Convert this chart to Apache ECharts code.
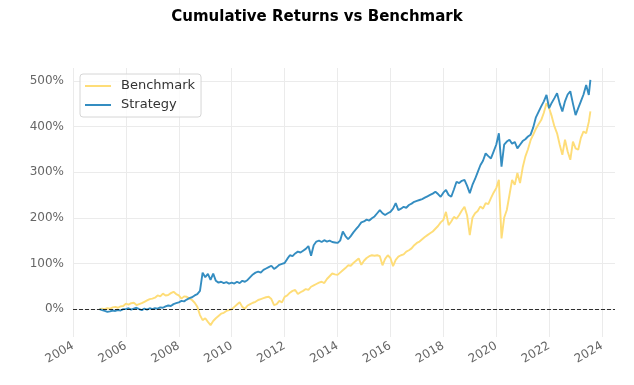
<!DOCTYPE html>
<html>
<head>
<meta charset="utf-8">
<script src="https://cdn.jsdelivr.net/npm/echarts@6/dist/echarts.min.js"></script>
<style>html,body{margin:0;padding:0;background:#fff}#c{width:634px;height:385px}</style>
</head>
<body>
<div id="c"></div>
<script>
const years = [
2005.0,2005.1,2005.2,2005.3,2005.4,2005.5,2005.6,2005.7,2005.8,2005.9,
2006.0,2006.1,2006.2,2006.3,2006.4,2006.5,2006.6,2006.7,2006.8,2006.9,
2007.0,2007.1,2007.2,2007.3,2007.4,2007.5,2007.6,2007.7,2007.8,2007.9,
2008.0,2008.1,2008.2,2008.3,2008.4,2008.5,2008.6,2008.7,2008.8,2008.9,
2009.0,2009.1,2009.2,2009.3,2009.4,2009.5,2009.6,2009.7,2009.8,2009.9,
2010.0,2010.1,2010.2,2010.3,2010.4,2010.5,2010.6,2010.7,2010.8,2010.9,
2011.0,2011.1,2011.2,2011.3,2011.4,2011.5,2011.6,2011.7,2011.8,2011.9,
2012.0,2012.1,2012.2,2012.3,2012.4,2012.5,2012.6,2012.7,2012.8,2012.9,
2013.0,2013.1,2013.2,2013.3,2013.4,2013.5,2013.6,2013.7,2013.8,2013.9,
2014.0,2014.1,2014.2,2014.3,2014.4,2014.5,2014.6,2014.7,2014.8,2014.9,
2015.0,2015.1,2015.2,2015.3,2015.4,2015.5,2015.6,2015.7,2015.8,2015.9,
2016.0,2016.1,2016.2,2016.3,2016.4,2016.5,2016.6,2016.7,2016.8,2016.9,
2017.0,2017.1,2017.2,2017.3,2017.4,2017.5,2017.6,2017.7,2017.8,2017.9,
2018.0,2018.1,2018.2,2018.3,2018.4,2018.5,2018.6,2018.7,2018.8,2018.9,
2019.0,2019.1,2019.2,2019.3,2019.4,2019.5,2019.6,2019.7,2019.8,2019.9,
2020.0,2020.1,2020.2,2020.3,2020.4,2020.5,2020.6,2020.7,2020.8,2020.9,
2021.0,2021.1,2021.2,2021.3,2021.4,2021.5,2021.6,2021.7,2021.8,2021.9,
2022.0,2022.1,2022.2,2022.3,2022.4,2022.5,2022.6,2022.7,2022.8,2022.9,
2023.0,2023.1,2023.2,2023.3,2023.4,2023.5,2023.56
];
const benchmark = [
0,1,0,2,1,4,5,3,6,7,
12,10,13,14,9,11,13,16,19,22,
23,25,30,28,34,30,31,35,38,33,
30,23,28,27,23,20,14,5,-13,-24,
-20,-28,-35,-26,-20,-15,-10,-8,-4,-2,
0,5,10,15,5,1,8,11,14,16,
20,22,24,26,27,22,9,11,18,15,
27,30,36,40,42,33,37,40,44,42,
49,52,55,58,60,57,66,72,78,76,
75,80,85,90,96,95,101,106,111,97,
106,112,116,118,117,118,116,96,110,118,
112,94,108,115,118,120,126,129,133,140,
145,148,153,158,162,166,170,176,182,190,
195,213,184,192,202,198,206,216,224,205,
162,200,210,215,225,220,232,230,243,255,
265,283,155,200,217,250,283,272,298,276,
310,334,350,370,382,395,405,414,430,451,
440,422,400,385,360,338,371,345,327,367,
352,349,375,389,385,410,433
];
const strategy = [
0,-2,-4,-6,-5,-3,-4,-2,-3,0,
0,2,-1,1,3,0,-2,1,-1,2,
0,2,1,4,3,6,8,7,11,13,
15,18,17,21,24,26,30,33,40,80,
70,77,64,78,62,58,60,57,59,56,
58,56,60,57,62,60,64,70,76,80,
82,80,86,89,92,95,88,92,97,99,
101,110,118,116,122,126,124,128,132,138,
117,140,148,150,147,151,148,150,147,146,
145,150,170,160,153,160,168,175,182,190,
192,196,194,199,203,210,217,210,206,210,
213,220,232,217,220,224,222,228,231,235,
237,239,241,244,247,250,253,257,252,246,
255,261,250,246,262,279,276,281,283,270,
254,272,285,300,315,325,341,335,330,345,
360,385,312,360,367,371,362,366,352,360,
368,372,378,382,398,420,432,444,455,469,
440,452,462,473,450,433,455,470,477,450,
425,440,455,470,491,469,502
];
const xTicksEvery = 2;
const seriesNames = ['Benchmark', 'Strategy'];

const pair = (arr) => years.map((y, i) => [y, arr[i]]);
const FONT = 'DejaVu Sans';
const chart = echarts.init(document.getElementById('c'), null, {renderer: 'canvas'});
chart.setOption({
  animation: false,
  backgroundColor: '#fff',
  title: {
    text: 'Cumulative Returns vs Benchmark',
    left: 'center', top: 5,
    textStyle: {fontFamily: FONT, fontSize: 15, fontWeight: 'bold', color: '#000'}
  },
  legend: {
    data: seriesNames,
    orient: 'vertical',
    left: 80, top: 74,
    padding: [5, 6, 5, 5],
    icon: 'rect',
    itemWidth: 26, itemHeight: 2, itemGap: 5,
    borderColor: '#d6d6d6', borderWidth: 1, borderRadius: 3,
    backgroundColor: 'rgba(255,255,255,0.8)',
    textStyle: {fontFamily: FONT, fontSize: 13, color: '#333', padding: [0, 0, 0, 5], lineHeight: 14}
  },
  grid: {left: 73, right: 19, top: 68, bottom: 48},
  xAxis: {
    type: 'value', min: 2004, max: 2024.49, interval: xTicksEvery,
    axisLine: {show: false}, axisTick: {show: false},
    splitLine: {show: true, showMaxLine: false, lineStyle: {color: '#ebebeb', width: 1}},
    axisLabel: {
      rotate: 30, margin: 8, fontFamily: FONT, fontSize: 12, color: '#666',
      showMaxLabel: false, formatter: (v) => String(Math.round(v))
    }
  },
  yAxis: {
    type: 'value', min: -61, max: 528,
    axisLine: {show: false}, axisTick: {show: false},
    splitLine: {show: true, showMinLine: false, showMaxLine: false, lineStyle: {color: '#ebebeb', width: 1}},
    axisLabel: {
      margin: 9, fontFamily: FONT, fontSize: 12, color: '#666',
      showMinLabel: false, showMaxLabel: false, formatter: '{value}%'
    }
  },
  series: [
    {
      name: 'Benchmark', type: 'line', data: pair(benchmark),
      symbol: 'none', showSymbol: false,
      lineStyle: {color: '#fedd78', width: 1.9},
      itemStyle: {color: '#fedd78'}
    },
    {
      name: 'Strategy', type: 'line', data: pair(strategy),
      symbol: 'none', showSymbol: false,
      lineStyle: {color: '#348dc1', width: 1.9},
      itemStyle: {color: '#348dc1'},
      markLine: {
        silent: true, symbol: 'none', label: {show: false},
        lineStyle: {color: '#000', type: [4, 2], width: 1.2, opacity: 0.8},
        data: [{yAxis: 0}]
      }
    }
  ]
});
</script>
</body>
</html>
